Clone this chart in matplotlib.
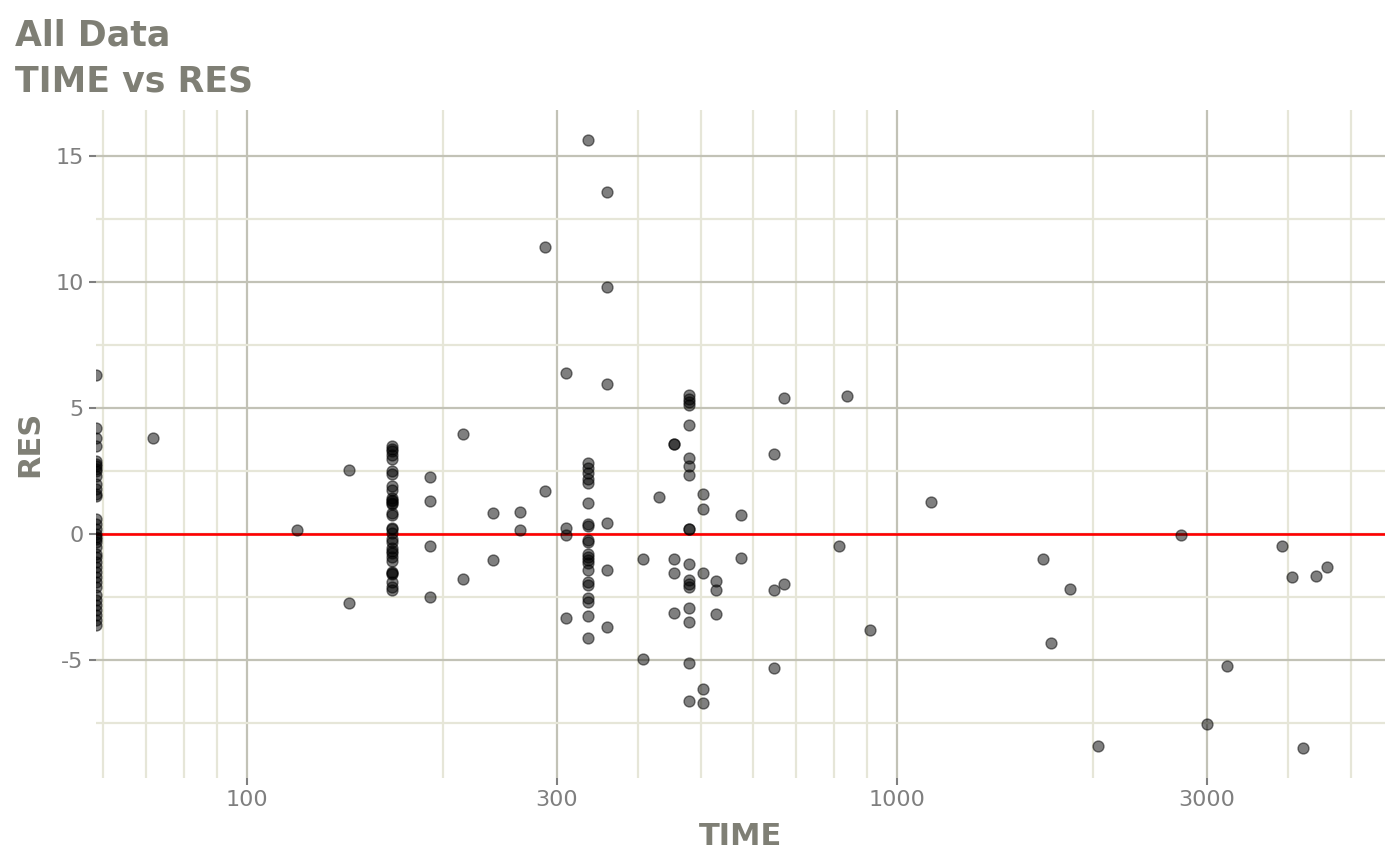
import numpy as np
from matplotlib import pyplot as plt
from matplotlib.ticker import FixedLocator, LogLocator, NullFormatter, FuncFormatter

###* DATA
##* one TIME value per group, with the RES values read at that TIME
TIME_GROUPS = [58.6, 71.6, 119.4, 143.5, 167, 191, 214.7, 239, 263, 287, 310, 334.7, 358,
               406.5, 430.5, 454, 478.6, 503, 526.7, 575.6, 647, 670, 814.6, 838, 908, 1128,
               1679, 1726, 1848, 2036, 2737, 3000, 3219, 3908, 4055, 4214, 4416, 4581]
RES_GROUPS = [
    [6.3, 4.2, 3.8, 3.5, 2.9, 2.8, 2.7, 2.6, 2.5, 2.3, 2.0, 1.8, 1.6, 1.5, 0.6, 0.4, 0.2, 0.0, -0.1,
     -0.2, -0.3, -0.5, -0.8, -0.9, -1.1, -1.3, -1.5, -1.7, -1.9, -2.1, -2.4, -2.6, -2.8, -3.0, -3.2, -3.4, -3.6],
    [3.81],
    [0.16],
    [2.54, -2.74],
    [3.5, 3.4, 3.3, 3.15, 3.0, 2.5, 2.4, 1.9, 1.75, 1.45, 1.35, 1.3, 1.25, 1.2, 0.85, 0.75, 0.25, 0.2,
     0.05, -0.2, -0.3, -0.55, -0.65, -0.75, -0.9, -1.05, -1.5, -1.55, -1.6, -1.9, -2.1, -2.2],
    [2.27, 1.32, -0.46, -2.49],
    [3.97, -1.76],
    [0.86, -1.03],
    [0.89, 0.16],
    [11.4, 1.72],
    [6.39, 0.25, -0.04, -3.31],
    [15.63, 2.83, 2.61, 2.41, 2.21, 2.04, 1.22, 0.40, 0.33, -0.24, -0.30, -0.77, -0.90, -1.03, -1.16,
     -1.43, -1.89, -2.02, -2.55, -2.69, -3.25, -4.14],
    [13.58, 9.81, 5.98, 0.45, -1.43, -3.68],
    [-1.0, -4.96],
    [1.48],
    [3.57, 3.57, -1.0, -1.53, -3.11],
    [5.52, 5.38, 5.25, 5.12, 4.33, 3.03, 2.70, 2.34, 0.19, 0.19, -1.19, -1.83, -1.96, -2.09, -2.95,
     -3.48, -5.12, -6.63],
    [1.61, 0.99, -1.56, -6.13, -6.72],
    [-1.87, -2.22, -3.15],
    [0.77, -0.96],
    [3.20, -2.22, -5.30],
    [5.41, -1.96],
    [-0.48],
    [5.48],
    [-3.81],
    [1.27],
    [-1.0],
    [-4.31],
    [-2.18],
    [-8.40],
    [-0.04],
    [-7.55],
    [-5.25],
    [-0.48],
    [-1.71],
    [-8.47],
    [-1.67],
    [-1.30],
]
X_TICKS = [100, 300, 1000, 3000]
Y_TICKS = [-5, 0, 5, 10, 15]

time = np.concatenate([[t] * len(r) for t, r in zip(TIME_GROUPS, RES_GROUPS)])
res = np.concatenate(RES_GROUPS)

###* STYLE
TXT = "#7f7f75"
TICK = "#7f7f7f"
plt.rcParams["axes.unicode_minus"] = False
plt.rcParams["font.family"] = ["DejaVu Sans"]

###* FIGURE
fig = plt.figure(figsize=(14, 8.65), dpi=100)
ax = fig.add_axes([96 / 1400, 1 - 778 / 865, 1289 / 1400, 668 / 865])
ax.set_axisbelow(True)
for s in ax.spines.values():
    s.set_visible(False)

ax.axhline(0, color="red", lw=1.9, zorder=2)
ax.scatter(time, res, s=62, c="black", alpha=0.5, linewidths=1, edgecolors="black", zorder=3)

ax.set_xscale("log")
ax.set_xlim(min(TIME_GROUPS), 5634)
ax.set_ylim(-9.68, 16.84)
ax.xaxis.set_major_locator(FixedLocator(X_TICKS))
ax.xaxis.set_major_formatter(FuncFormatter(lambda v, p: "{:d}".format(int(round(v)))))
ax.xaxis.set_minor_locator(LogLocator(base=10, subs=[2, 4, 5, 6, 7, 8, 9]))
ax.xaxis.set_minor_formatter(NullFormatter())
ax.yaxis.set_major_locator(FixedLocator(Y_TICKS))
ax.yaxis.set_minor_locator(FixedLocator([-7.5, -2.5, 2.5, 7.5, 12.5]))

ax.grid(which="major", color="#c2c2b6", lw=1.6)
ax.grid(which="minor", color="#e6e6d8", lw=1.6)
ax.tick_params(which="major", length=5, width=1.5, color=TICK, labelcolor=TICK, labelsize=16, pad=4)
ax.tick_params(which="minor", length=0)

ax.set_xlabel("TIME", color=TXT, fontsize=22, weight="bold", labelpad=8)
ax.set_ylabel("RES", color=TXT, fontsize=22, weight="bold", labelpad=8)

fig.text(15 / 1400, 1 - 45 / 865, "All Data", color=TXT, fontsize=25, weight="bold", va="baseline")
fig.text(15 / 1400, 1 - 92 / 865, "TIME vs RES", color=TXT, fontsize=25, weight="bold", va="baseline")

fig.savefig("out.png", dpi=100)
